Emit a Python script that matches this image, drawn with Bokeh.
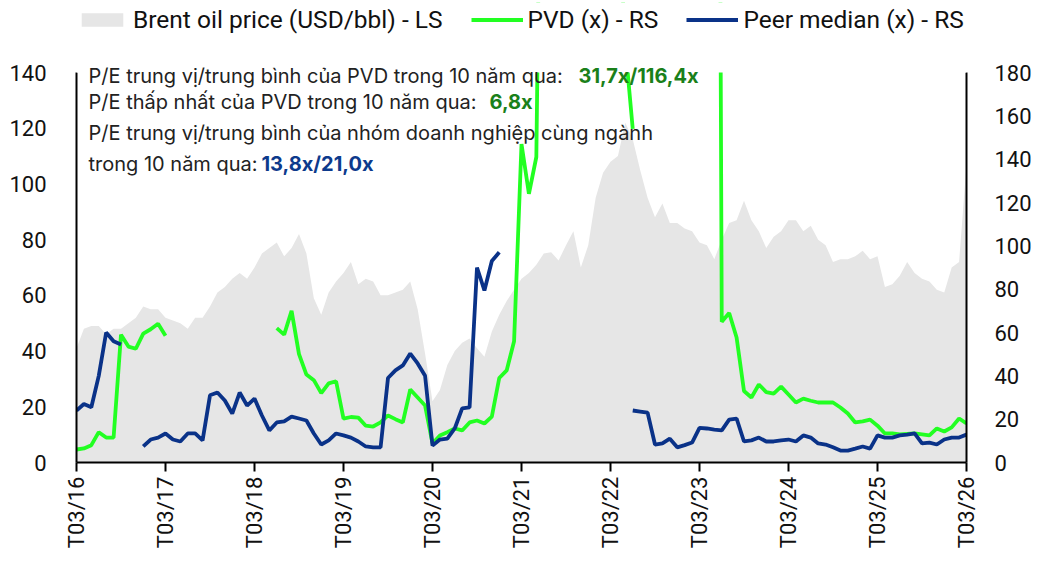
import math
from bokeh.plotting import figure
from bokeh.models import (Range1d, LinearAxis, FixedTicker, Legend, LegendItem, Label,
                          BoxAnnotation)
from bokeh.embed import file_html
from bokeh.resources import INLINE

nan = float("nan")

# monthly index: 0 = 03/2016 ... 120 = 03/2026
months = list(range(121))
tick_months = [0, 12, 24, 36, 48, 60, 72, 84, 96, 108, 120]
tick_labels = ["T03/16", "T03/17", "T03/18", "T03/19", "T03/20", "T03/21",
               "T03/22", "T03/23", "T03/24", "T03/25", "T03/26"]

brent = [41, 48, 49, 49, 46, 48, 48, 50, 52, 56,
         55, 55, 52, 51, 50, 48, 52, 52, 56, 61,
         63, 66, 68, 66, 70, 75, 77, 79, 74, 77,
         82, 75, 59, 53, 61, 65, 68, 72, 64, 66,
         65, 60, 60, 61, 62, 65, 55, 39, 22, 26,
         35, 40, 43, 44.5, 41, 38, 47, 53, 58, 62,
         66, 68, 71, 75, 75.5, 72.5, 78, 83, 70, 78,
         95, 104, 108, 110, 122, 116, 105, 95, 88, 93,
         86, 86, 84, 83, 79, 78, 73, 80, 86, 87,
         94, 87, 83, 77, 81, 83, 87, 87, 83, 85,
         80, 78, 72, 73, 73, 74, 76, 73, 74, 63,
         64, 67, 72, 68, 66, 65, 62, 61, 70, 72,
         107]

pvd = [6, 6.5, 8, 14, 11.5, 11.5, 59, 53.5, 52.5, 59.5,
       61.5, 64, 58.5, nan, nan, nan, nan, nan, nan, nan,
       nan, nan, nan, nan, nan, nan, nan, 62, 59, 70,
       50, 40.6, 38, 32, 36.5, 37.5, 20.3, 21, 20.7, 17,
       16.6, 18.5, 21.7, 20, 18.5, 33.7, 30, 26.3, 8.8, 12.5,
       14, 15.7, 14.8, 18.5, 19.4, 18, 21.2, 39, 42.5, 56,
       147, 124, 141, 420, 510, 600, 650, 700, 620, 560,
       480, 400, 330, 260, 192, 154, nan, nan, nan, nan,
       nan, nan, nan, nan, nan, nan, 900, 65, 69, 57.7,
       33, 30, 36, 32.5, 31.8, 35, 31.4, 27.7, 29.5, 28.5,
       27.7, 27.7, 27.7, 25.4, 22.6, 18.5, 19, 19.8, 17, 13.4,
       13.4, 13, 13.2, 13.4, 13, 12.5, 15.7, 14.3, 16.2, 20.3,
       18]

peer = [24, 27, 25.5, 40, 60, 56, 54.5, nan, nan, 7.4,
        10.6, 11.5, 13.4, 10.6, 9.7, 13.4, 13.4, 10.2, 31, 32.3,
        28.6, 22.6, 32.3, 26.3, 29.5, 21.7, 14.8, 18.5, 19, 21.2,
        20.3, 19.4, 13.4, 8.3, 10.2, 13.4, 12.5, 11.5, 9.7, 7.4,
        7, 7, 39, 42.5, 44.8, 50.3, 45.7, 40, 7.8, 10.6,
        11, 15.7, 25, 25.4, 90, 79.4, 93, 97, nan, nan,
        nan, nan, nan, nan, nan, nan, nan, nan, nan, nan,
        nan, nan, nan, nan, nan, 24, 23.5, 23, 8.3, 8.8,
        11, 7, 8, 9.2, 16, 15.7, 15.2, 14.8, 19.8, 20.3,
        9.7, 10.2, 11.5, 9.7, 9.7, 10.2, 10.6, 9.7, 12.5, 11.5,
        8.8, 8.3, 7, 5.5, 5.5, 6.4, 7.4, 6.4, 12.5, 11.5,
        11.5, 12.5, 12.9, 13.4, 8.8, 9.2, 8.3, 10.6, 11.5, 11.5,
        12.9]

left_ticks = [0, 20, 40, 60, 80, 100, 120, 140]
right_ticks = [0, 20, 40, 60, 80, 100, 120, 140, 160, 180]
LEFT_MAX, RIGHT_MAX = 140, 180

GREEN = "#22ff22"
NAVY = "#0a3288"
AREA = "#e6e6e6"
TICK_FONT = "Roboto"
TXT_FONT = "Inter"

AXIS_PX = 390      # pixel height of the 0..max axis span
FRAME_PX = 460     # frame height (frame runs almost to the top of the figure)
ext = FRAME_PX / AXIS_PX

p = figure(width=1036, height=552, output_backend="svg", toolbar_location=None,
           x_range=Range1d(0, 120), y_range=Range1d(0, LEFT_MAX * ext),
           min_border_left=76, min_border_right=70, min_border_top=2,
           min_border_bottom=90, y_axis_location=None, x_axis_location=None)
p.extra_y_ranges = {"right": Range1d(0, RIGHT_MAX * ext)}
p.outline_line_color = None
p.xgrid.visible = False
p.ygrid.visible = False
p.background_fill_color = "white"
p.border_fill_color = "white"

r_area = p.varea(x=months, y1=[0] * len(months), y2=brent, fill_color=AREA)
r_pvd = p.line(x=months, y=pvd, y_range_name="right", line_color=GREEN, line_width=3.8)
r_peer = p.line(x=months, y=peer, y_range_name="right", line_color=NAVY, line_width=3.8)

# hide everything above the top of the value axes (plot-area clipping)
p.add_layout(BoxAnnotation(bottom=RIGHT_MAX, top=RIGHT_MAX * ext * 1.2,
                           y_range_name="right", fill_color="white",
                           fill_alpha=1, line_color=None))


def style_axis(ax, size="22px"):
    ax.axis_line_color = "black"
    ax.axis_line_width = 2
    ax.major_label_text_font = TICK_FONT
    ax.major_label_text_font_size = size
    ax.major_label_text_color = "#111111"
    ax.minor_tick_line_color = None


xaxis = LinearAxis(ticker=FixedTicker(ticks=tick_months))
xaxis.major_label_overrides = {m: l for m, l in zip(tick_months, tick_labels)}
style_axis(xaxis)
xaxis.major_tick_out = 9
xaxis.major_tick_in = 0
xaxis.major_tick_line_width = 2
xaxis.major_label_orientation = math.pi / 2
xaxis.major_label_standoff = 5
p.add_layout(xaxis, "below")

laxis = LinearAxis(ticker=FixedTicker(ticks=left_ticks), bounds=(0, LEFT_MAX))
style_axis(laxis)
laxis.major_tick_line_color = None
laxis.major_label_standoff = 24
p.add_layout(laxis, "left")

raxis = LinearAxis(y_range_name="right", ticker=FixedTicker(ticks=right_ticks),
                   bounds=(0, RIGHT_MAX))
style_axis(raxis)
raxis.major_tick_line_color = None
raxis.major_label_standoff = 22
p.add_layout(raxis, "right")

# annotation text (screen units relative to the plot frame, baseline-anchored)
lines = [
    (12, 387, "P/E trung vị/trung bình của PVD trong 10 năm qua: ", "#222222", "normal"),
    (502, 387, "31,7x/116,4x", "#1a801a", "bold"),
    (12, 361, "P/E thấp nhất của PVD trong 10 năm qua: ", "#222222", "normal"),
    (413, 361, "6,8x", "#1a801a", "bold"),
    (12, 330, "P/E trung vị/trung bình của nhóm doanh nghiệp cùng ngành", "#222222", "normal"),
    (12, 299, "trong 10 năm qua: ", "#222222", "normal"),
    (185, 299, "13,8x/21,0x", "#0d3a8c", "bold"),
]
for x, y, t, c, w in lines:
    p.add_layout(Label(x=x, y=y, x_units="screen", y_units="screen", text=t,
                       text_font=TXT_FONT, text_font_size="20px",
                       text_font_style=w, text_color=c,
                       text_baseline="alphabetic", text_align="left"))

legend = Legend(items=[
    LegendItem(label="Brent oil price (USD/bbl) - LS", renderers=[r_area]),
    LegendItem(label="PVD (x) - RS", renderers=[r_pvd]),
    LegendItem(label="Peer median (x) - RS", renderers=[r_peer]),
], orientation="horizontal", location=(0, 428), padding=0, margin=0,
    spacing=28, label_standoff=5, glyph_width=52, glyph_height=17,
    label_text_font=TICK_FONT, label_text_font_size="24.5px",
    label_text_color="#111111", border_line_color=None,
    background_fill_alpha=0)
p.add_layout(legend, "center")

open("out.html", "w").write(file_html(p, INLINE))
